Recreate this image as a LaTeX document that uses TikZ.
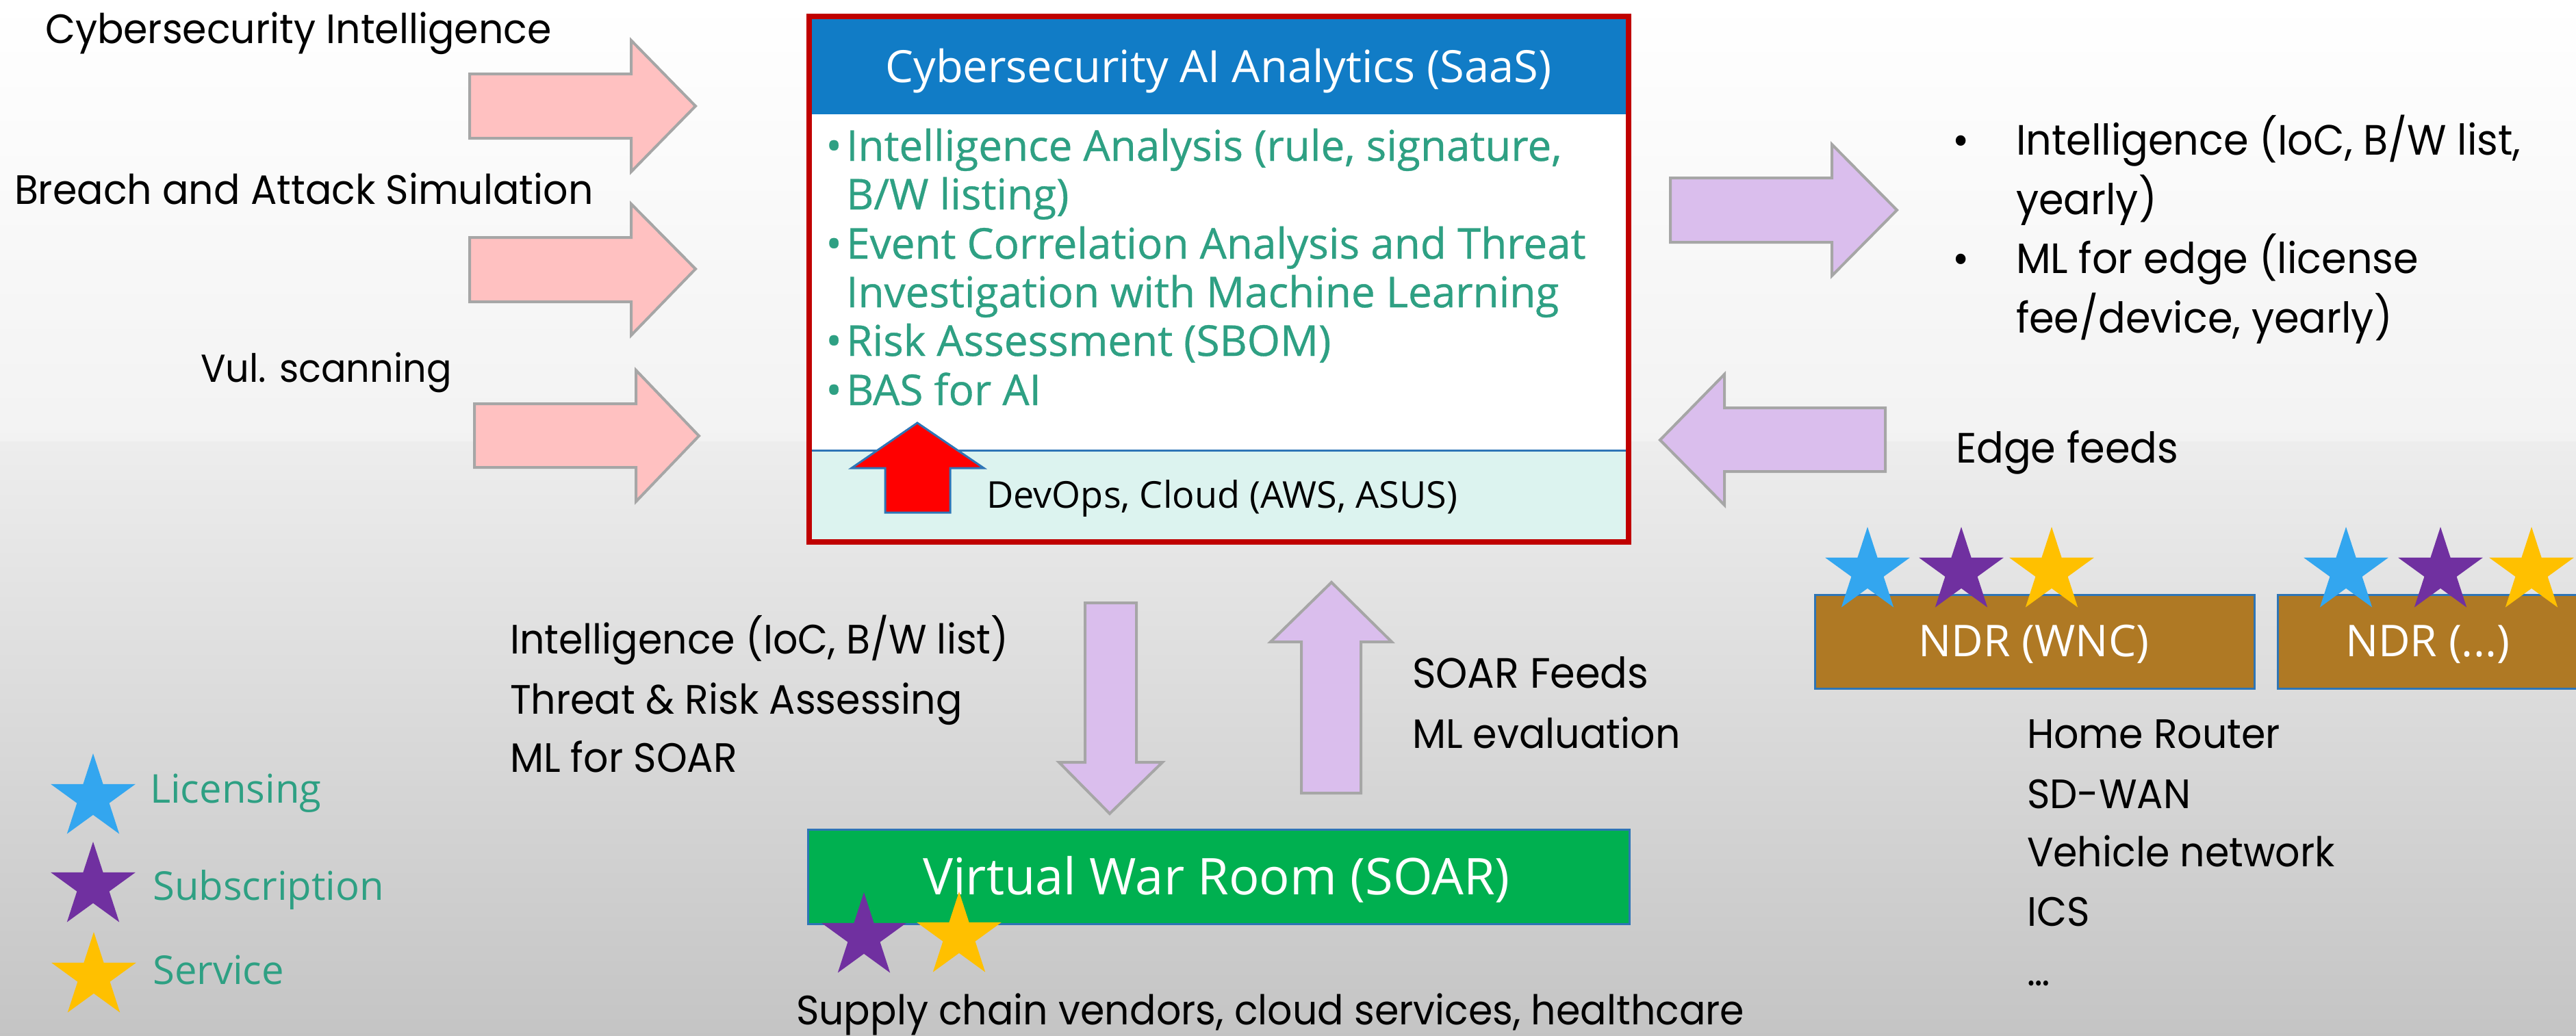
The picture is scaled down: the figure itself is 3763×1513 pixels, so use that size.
\documentclass[tikz,border=0pt]{standalone}
\usepackage{fontspec}
\setmainfont{Poppins}[FakeStretch=0.95]
\newfontfamily\boxfont{Open Sans}
\newfontfamily\bulletfont{Open Sans}[FakeBold=0.6]
\usetikzlibrary{shapes.geometric}

\definecolor{frame}{RGB}{192,0,0}
\definecolor{header}{RGB}{17,124,198}
\definecolor{paleaqua}{RGB}{220,243,239}
\definecolor{edgeblue}{RGB}{46,117,182}
\definecolor{soargreen}{RGB}{0,176,80}
\definecolor{ndrbrown}{RGB}{175,121,36}
\definecolor{teal}{RGB}{46,160,131}
\definecolor{pinkfill}{RGB}{255,193,193}
\definecolor{lilac}{RGB}{218,190,237}
\definecolor{arrowline}{RGB}{166,166,166}
\definecolor{starblue}{RGB}{51,166,239}
\definecolor{starpurple}{RGB}{112,48,160}
\definecolor{staryellow}{RGB}{255,192,0}

\tikzset{
  lbl/.style={font=\fontsize{60}{72}\selectfont, anchor=base west, inner sep=0pt, outer sep=0pt},
  rlbl/.style={lbl, font=\fontsize{62}{72}\selectfont},
  bul/.style={font=\bulletfont\fontsize{62}{72}\selectfont, text=teal, anchor=base west, inner sep=0pt},
  legend/.style={font=\boxfont\fontsize{58}{72}\selectfont, text=teal, anchor=base west, inner sep=0pt},
  pinkarrow/.style={fill=pinkfill, draw=arrowline, line width=4pt, line join=miter},
  lilacarrow/.style={fill=lilac, draw=arrowline, line width=4pt, line join=miter},
  starmark/.style={star, star points=5, star point ratio=2.618, minimum size=130pt, inner sep=0pt, outer sep=0pt, draw=none},
  panel/.style={draw=edgeblue, line width=3pt, anchor=north west, inner sep=0pt},
  paneltext/.style={font=\boxfont\fontsize{64}{72}\selectfont, text=white, anchor=base, inner sep=0pt},
}

\begin{document}
\begin{tikzpicture}[x=1pt, y=-1pt]
\useasboundingbox (0,0) rectangle (3763,1513);

% background
\shade[top color=white, bottom color=black!5] (0,0) rectangle (3763,645);
\shade[top color=black!7, bottom color=black!23] (0,645) rectangle (3763,1513);

% input arrows on the left
\draw[pinkarrow] (686,108) -- (922,108) -- (922,59) -- (1016,155) -- (922,251) -- (922,202) -- (686,202) -- cycle;
\draw[pinkarrow] (686,347) -- (922,347) -- (922,298) -- (1016,393) -- (922,490) -- (922,441) -- (686,441) -- cycle;
\draw[pinkarrow] (693,590) -- (929,590) -- (929,541) -- (1021,637) -- (929,733) -- (929,683) -- (693,683) -- cycle;

\node[lbl] (ci) at (66,63) {Cybersecurity Intelligence};
\node[lbl] (bas) at (21,298) {Breach and Attack Simulation};
\node[lbl, font=\fontsize{57}{72}\selectfont] (vul) at (293,558) {Vul. scanning};

% SaaS box
\fill[header] (1182,24) rectangle (2379,167);
\fill[white] (1182,167) rectangle (2379,658);
\fill[paleaqua] (1182,658) rectangle (2379,792);
\draw[edgeblue, line width=3pt] (1182,658) -- (2379,658);
\draw[frame, line width=8pt] (1182,24) rectangle (2379,792);

\node[font=\boxfont\fontsize{65}{72}\selectfont, text=white, anchor=base, inner sep=0pt] (title) at (1780,120) {Cybersecurity AI Analytics (SaaS)};

\node[bul, anchor=base east] at (1230,235) {•};
\node[bul] (b1) at (1236,235) {Intelligence Analysis (rule, signature,};
\node[bul] (b1b) at (1236,306) {B/W listing)};
\node[bul, anchor=base east] at (1230,378) {•};
\node[bul] (b2) at (1236,378) {Event Correlation Analysis and Threat};
\node[bul] (b2b) at (1236,449) {Investigation with Machine Learning};
\node[bul, anchor=base east] at (1230,520) {•};
\node[bul] (b3) at (1236,520) {Risk Assessment (SBOM)};
\node[bul, anchor=base east] at (1230,592) {•};
\node[bul] (b4) at (1236,592) {BAS for AI};

\draw[fill=red, draw=edgeblue, line width=3pt, line join=miter] (1340,618) -- (1437,684) -- (1388,684) -- (1388,749) -- (1293,749) -- (1293,684) -- (1244,684) -- cycle;
\node[font=\boxfont\fontsize{54}{60}\selectfont, anchor=base west, inner sep=0pt] (devops) at (1441,742) {DevOps, Cloud (AWS, ASUS)};

% right side: outputs to the edge and feeds back
\draw[lilacarrow] (2440,260) -- (2676,260) -- (2676,211) -- (2771,307) -- (2676,403) -- (2676,354) -- (2440,354) -- cycle;
\draw[lilacarrow] (2754,596) -- (2519,596) -- (2519,547) -- (2425,643) -- (2519,738) -- (2519,689) -- (2754,689) -- cycle;

\node[rlbl] at (2852,226) {•};
\node[rlbl] (r1) at (2945,226) {Intelligence (IoC, B/W list,};
\node[rlbl] (r1b) at (2945,313) {yearly)};
\node[rlbl] at (2852,399) {•};
\node[rlbl] (r2) at (2945,399) {ML for edge (license};
\node[rlbl] (r2b) at (2945,486) {fee/device, yearly)};
\node[rlbl] (edge) at (2857,676) {Edge feeds};

% NDR devices
\node[panel, fill=ndrbrown, minimum width=642pt, minimum height=137pt] (ndr1) at (2650,868) {};
\node[panel, fill=ndrbrown, minimum width=460pt, minimum height=137pt] (ndr2) at (3326,868) {};
\node[paneltext] at (2971,959) {NDR (WNC)};
\node[paneltext] at (3546,959) {NDR (...)};

\node[starmark, fill=starblue] at (2728,835) {};
\node[starmark, fill=starpurple] at (2865,835) {};
\node[starmark, fill=staryellow] at (2997,835) {};
\node[starmark, fill=starblue] at (3427,835) {};
\node[starmark, fill=starpurple] at (3565,835) {};
\node[starmark, fill=staryellow] at (3698,835) {};

\node[lbl] at (2961,1093) {Home Router};
\node[lbl] at (2961,1181) {SD-WAN};
\node[lbl] at (2961,1266) {Vehicle network};
\node[lbl] at (2961,1353) {ICS};
\node[lbl] at (2961,1440) {\dots};

% SOAR exchange
\draw[lilacarrow] (1585,881) -- (1660,881) -- (1660,1114) -- (1698,1114) -- (1621,1189) -- (1547,1114) -- (1585,1114) -- cycle;
\draw[lilacarrow] (1901,1159) -- (1901,938) -- (1856,938) -- (1945,851) -- (2033,938) -- (1988,938) -- (1988,1159) -- cycle;

\node[lbl] at (745,955) {Intelligence (IoC, B/W list)};
\node[lbl] at (745,1043) {Threat \& Risk Assessing};
\node[lbl] at (745,1128) {ML for SOAR};
\node[rlbl] at (2063,1005) {SOAR Feeds};
\node[lbl] at (2063,1093) {ML evaluation};

\node[panel, fill=soargreen, minimum width=1200pt, minimum height=138pt] (soar) at (1179,1211) {};
\node[paneltext, font=\boxfont\fontsize{74}{80}\selectfont] at (1777,1307) {Virtual War Room (SOAR)};
\node[starmark, fill=starpurple] at (1262,1369) {};
\node[starmark, fill=staryellow] at (1401,1368) {};
\node[lbl] at (1163,1497) {Supply chain vendors, cloud services, healthcare};

% legend
\node[starmark, fill=starblue] at (136,1166) {};
\node[legend] at (219,1173) {Licensing};
\node[starmark, fill=starpurple] at (136,1295) {};
\node[legend] at (223,1315) {Subscription};
\node[starmark, fill=staryellow] at (137,1427) {};
\node[legend] at (223,1438) {Service};
\end{tikzpicture}
\end{document}
